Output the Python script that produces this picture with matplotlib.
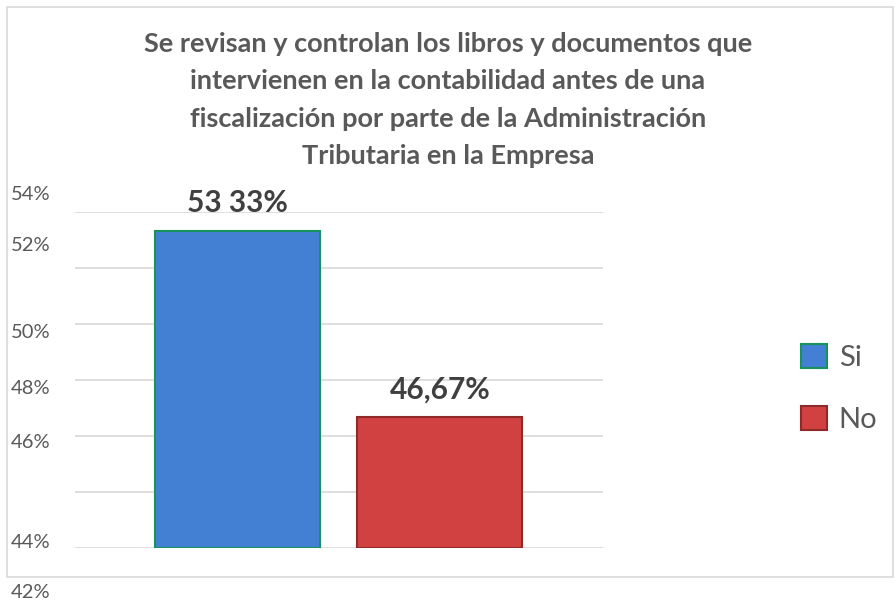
import matplotlib.pyplot as plt
from matplotlib.patches import Rectangle

categorias = ['Si', 'No']
valores = [53.33, 46.67]
etiquetas = ['53 33%', '46,67%']
ticks = [42, 44, 46, 48, 50, 52, 54]
# posiciones (px desde arriba) donde aparecen las etiquetas del eje en la imagen
tick_labels = ['54%', '52%', '50%', '48%', '46%', '44%', '42%']
tick_label_px = [195, 245, 333, 388, 442, 542, 592]

colores = ['#4380D3', '#D24141']
bordes = ['#17925A', '#8E2A2A']

W, H = 896, 601
fig = plt.figure(figsize=(W / 100, H / 100), dpi=100)
plt.rcParams['font.family'] = ['Lato', 'DejaVu Sans']

# marco del grafico
fig.patches.append(Rectangle((7 / W, 1 - 577 / H), 886 / W, 570 / H,
                             transform=fig.transFigure, fill=False,
                             edgecolor='#D9D9D9', linewidth=1.2))

ax = fig.add_axes([75 / W, 1 - 548 / H, 528 / W, 336 / H])
x = [0, 1]
for i in range(len(categorias)):
    ax.bar(x[i], valores[i] - ticks[0], bottom=ticks[0], width=0.815,
           color=colores[i], edgecolor=bordes[i], linewidth=1.5,
           label=categorias[i], zorder=3)
    ax.text(x[i], valores[i] + 0.5, etiquetas[i], ha='center', va='bottom',
            fontsize=21.5, fontweight='bold', color='#404040')

ax.set_xlim(-0.802, 1.805)
ax.set_ylim(ticks[0], ticks[-1])
ax.set_yticks(ticks)
ax.yaxis.grid(True, color='#D9D9D9', linewidth=1.2, zorder=0)
ax.tick_params(left=False, bottom=False, labelleft=False, labelbottom=False)
for s in ax.spines.values():
    s.set_visible(False)

for lab, py in zip(tick_labels, tick_label_px):
    fig.text(11 / W, 1 - py / H, lab, ha='left', va='center',
             fontsize=14.5, color='#595959')

titulo = ('Se revisan y controlan los libros y documentos que\n'
          'intervienen en la contabilidad antes de una\n'
          'fiscalización por parte de la Administración\n'
          'Tributaria en la Empresa')
fig.text(448 / W, 1 - 100 / H, titulo, ha='center', va='center',
         fontsize=19.5, fontweight='bold', color='#595959', linespacing=1.68)

leg = ax.legend(loc='center left', bbox_to_anchor=(1.325, 0.475), frameon=False,
                fontsize=21, handlelength=0.9, handleheight=0.9,
                handletextpad=0.4, labelspacing=1.2, labelcolor='#595959')

fig.savefig('out.png', dpi=100)
